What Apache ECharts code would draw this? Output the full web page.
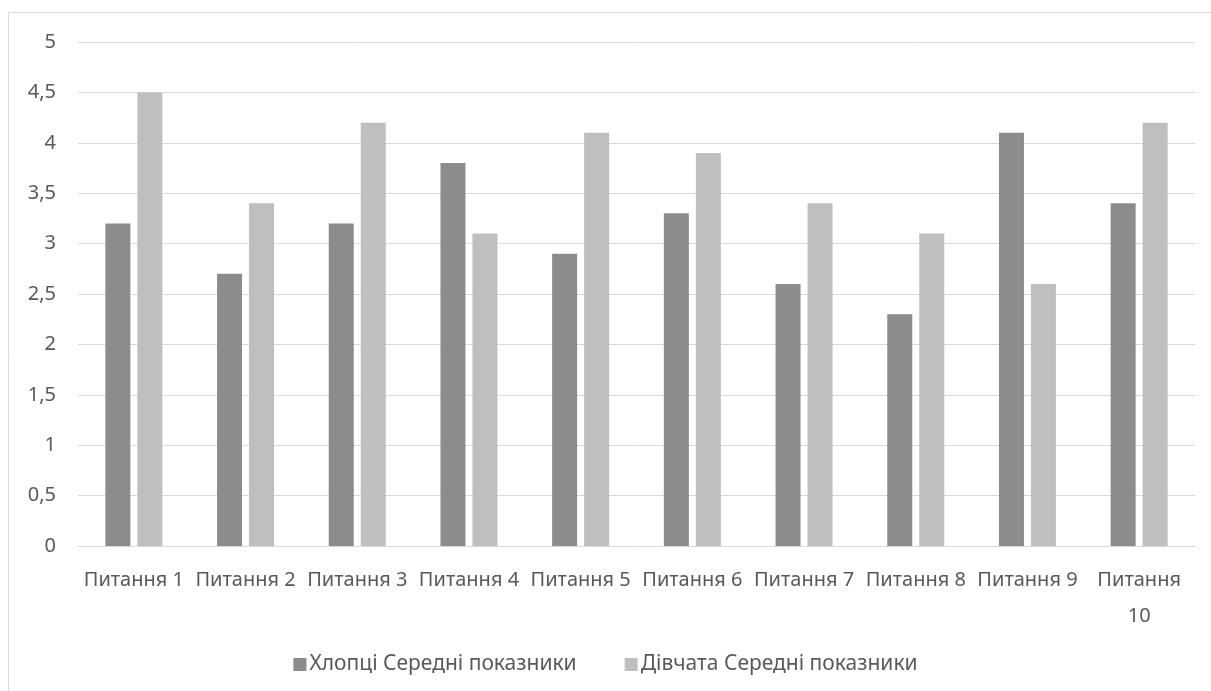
<!DOCTYPE html>
<html><head><meta charset="utf-8">
<script src="https://cdn.jsdelivr.net/npm/echarts@6/dist/echarts.min.js"></script>
<style>html,body{margin:0;padding:0;background:#fff}#c{width:1211px;height:691px}</style>
</head><body><div id="c"></div>
<script>
const categories = ['Питання 1','Питання 2','Питання 3','Питання 4','Питання 5','Питання 6','Питання 7','Питання 8','Питання 9','Питання 10'];
const boys = [3.2, 2.7, 3.2, 3.8, 2.9, 3.3, 2.6, 2.3, 4.1, 3.4];
const girls = [4.5, 3.4, 4.2, 3.1, 4.1, 3.9, 3.4, 3.1, 2.6, 4.2];
const seriesNames = ['Хлопці Середні показники', 'Дівчата Середні показники'];
const font = 'Noto Sans';
const chart = echarts.init(document.getElementById('c'));
chart.setOption({
  animation: false,
  textStyle: {fontFamily: font, color: '#595959'},
  graphic: [{type:'rect', shape:{x:8.5, y:12.5, width:1215, height:700}, style:{fill:'none', stroke:'#d9d9d9', lineWidth:1}, silent:true}],
  grid: {left: 78, right: 16, top: 42, bottom: 145, containLabel: false},
  legend: {
    top: 649, left: 'center', itemWidth: 13, itemHeight: 13, itemGap: 48,
    icon: 'rect',
    textStyle: {fontFamily: font, fontSize: 21, color: '#595959', padding: [0, 0, 0, -2]},
    data: seriesNames
  },
  xAxis: {
    type: 'category', data: categories,
    axisLine: {lineStyle: {color: '#d9d9d9', width: 1}},
    axisTick: {show: false},
    axisLabel: {fontFamily: font, fontSize: 20, color: '#595959', margin: 16, interval: 0, lineHeight: 36,
      formatter: s => s.length > 9 ? s.replace(' ', '\n') : s}
  },
  yAxis: {
    type: 'value', min: 0, max: 5, interval: 0.5,
    axisLine: {show: false}, axisTick: {show: false},
    splitLine: {lineStyle: {color: '#d9d9d9', width: 1}},
    axisLabel: {fontFamily: font, fontSize: 20, color: '#595959', margin: 22,
      formatter: v => String(v).replace('.', ',')}
  },
  series: [
    {name: seriesNames[0], type: 'bar', data: boys, barWidth: 25, barGap: '28%', itemStyle: {color: '#8c8c8c'}},
    {name: seriesNames[1], type: 'bar', data: girls, barWidth: 25, itemStyle: {color: '#bfbfbf'}}
  ]
});
</script></body></html>
